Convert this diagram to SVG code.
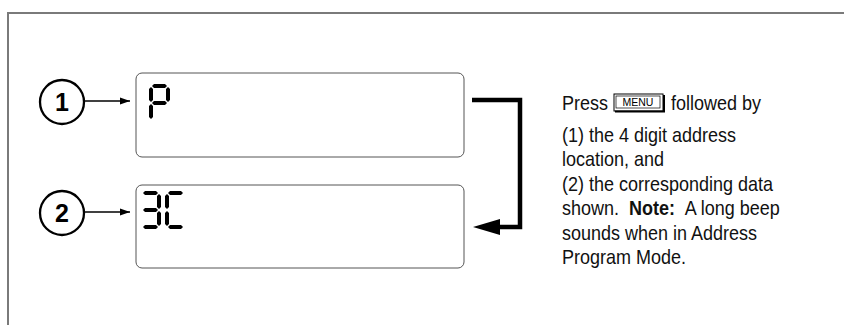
<svg xmlns="http://www.w3.org/2000/svg" width="844" height="325" viewBox="0 0 844 325">
<style>
.frame{fill:none;stroke:#7a7a7a;stroke-width:2}
.lcd{fill:#fff;stroke:#555;stroke-width:1}
.num{fill:none;stroke:#000;stroke-width:2.3}
.numt{font-family:"Liberation Sans",Arial,sans-serif;font-weight:bold;font-size:25px;fill:#000;text-anchor:middle}
.ptr{stroke:#000;stroke-width:1.6;fill:none}
.seg{fill:#000}
.txt{font-family:"Liberation Sans",Arial,sans-serif;font-size:20px;fill:#111}
.key{font-family:"Liberation Sans",Arial,sans-serif;font-size:10.5px;fill:#000;text-anchor:middle}
</style>
<defs>
<marker id="ah" viewBox="0 0 10 10" refX="10" refY="5" markerWidth="10" markerHeight="8" markerUnits="userSpaceOnUse" orient="auto" preserveAspectRatio="none">
<path d="M0,0.5 L10,5 L0,9.5 Z" fill="#000"/>
</marker>
<polygon id="hs" points="0,0 2,-2 13,-2 15,0 13,2 2,2"/>
<polygon id="vs" points="0,0 -2,2 -2,13 0,15 2,13 2,2"/>
</defs>

<path class="frame" d="M844,13 H8 V325"/>

<g id="lcd1">
<rect class="lcd" x="136" y="73" width="328" height="84" rx="6"/>
<g class="seg" transform="translate(151,86)">
<use href="#hs" x="1" y="0"/>
<use href="#vs" x="0" y="1"/>
<use href="#vs" x="17" y="1"/>
<use href="#hs" x="1" y="17"/>
<use href="#vs" x="0" y="18"/>
</g>
</g>

<g id="lcd2">
<rect class="lcd" x="136" y="185" width="328" height="83" rx="6"/>
<g class="seg" transform="translate(142,193)">
<use href="#hs" x="1" y="0"/>
<use href="#vs" x="17" y="1"/>
<use href="#hs" x="1" y="17"/>
<use href="#vs" x="17" y="18"/>
<use href="#hs" x="1" y="34"/>
</g>
<g class="seg" transform="translate(167,193)">
<use href="#hs" x="1" y="0"/>
<use href="#vs" x="0" y="1"/>
<use href="#vs" x="0" y="18"/>
<use href="#hs" x="1" y="34"/>
</g>
</g>

<g id="callout1">
<circle class="num" cx="62" cy="102" r="22"/>
<text class="numt" x="62" y="111">1</text>
</g>
<g id="callout2">
<circle class="num" cx="62" cy="213" r="22"/>
<text class="numt" x="62" y="222">2</text>
</g>

<g id="connectors">
<line class="ptr" x1="84" y1="101" x2="130" y2="101" marker-end="url(#ah)"/>
<line class="ptr" x1="84" y1="212" x2="130" y2="212" marker-end="url(#ah)"/>
<path d="M472,100 H520 V227 H496" fill="none" stroke="#000" stroke-width="4.5"/>
<polygon points="473,227 500,219 500,235" fill="#000"/>
</g>

<g id="description">
<g transform="translate(562,0) scale(0.9,1)">
<text class="txt" x="0" y="110">Press</text>
<text class="txt" x="121" y="110">followed by</text>
<text class="txt" x="0" y="142">(1) the 4 digit address</text>
<text class="txt" x="0" y="166.5">location, and</text>
<text class="txt" x="0" y="191">(2) the corresponding data</text>
<text class="txt" x="0" y="215.5">shown.<tspan dx="11" font-weight="bold">Note:</tspan><tspan dx="11">A long beep</tspan></text>
<text class="txt" x="0" y="240">sounds when in Address</text>
<text class="txt" x="0" y="264.5">Program Mode.</text>
</g>
<g id="menu-key">
<rect x="614" y="94" width="49" height="17" fill="#fff" stroke="#000" stroke-width="1"/>
<rect x="616" y="96" width="44" height="12" fill="none" stroke="#000" stroke-width="0.7"/>
<polyline points="615,111.5 664,111.5 664,95" fill="none" stroke="#000" stroke-width="2"/>
<text class="key" x="638" y="106">MENU</text>
</g>
</g>
</svg>
